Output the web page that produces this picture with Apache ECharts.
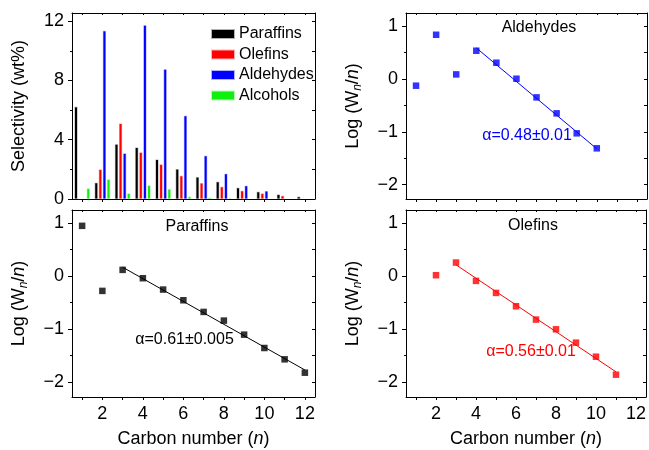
<!DOCTYPE html>
<html><head><meta charset="utf-8">
<script src="https://cdn.jsdelivr.net/npm/echarts@6/dist/echarts.min.js"></script>
<style>html,body{margin:0;padding:0;background:#fff}#c{width:649px;height:450px}</style>
</head><body><div id="c"></div>
<script>
// ---- data ----
const carbon = ['1','2','3','4','5','6','7','8','9','10','11','12'];
const carbonNum = [1,2,3,4,5,6,7,8,9,10,11,12];
const xLabelVals = [2,4,6,8,10,12];
const selTicks = [0,4,8,12];
const selMinor = [2,6,10];
const logTicks = [-2,-1,0,1];
const logMinor = [-1.5,-0.5,0.5];

const paraffinSel = [6.22,1.1,3.7,3.48,2.67,2.02,1.48,1.17,0.76,0.49,0.31,0.16];
const olefinSel   = [null,2.0,5.1,3.15,2.34,1.57,1.08,0.83,0.56,0.38,0.22,null];
const aldehydeSel = [null,11.35,3.08,11.73,8.76,5.62,2.92,1.71,0.9,0.54,null,null];
const alcoholSel  = [0.72,1.33,0.38,0.92,0.67,0.16,0.1,0.08,null,null,null,null];

const aldN = [1,2,3,4,5,6,7,8,9,10];
const aldLog = [-0.126,0.838,0.088,0.536,0.309,0.006,-0.347,-0.649,-1.027,-1.311];
const aldFit = [[4,0.59],[10,-1.32]];

const parN = [1,2,3,4,5,6,7,8,9,10,11,12];
const parLog = [0.951,-0.277,0.12,-0.038,-0.252,-0.454,-0.674,-0.838,-1.103,-1.355,-1.569,-1.821];
const parFit = [[3,0.17],[12,-1.77]];

const olN = [2,3,4,5,6,7,8,9,10,11];
const olLog = [0.019,0.258,-0.088,-0.315,-0.567,-0.819,-1.002,-1.254,-1.519,-1.859];
const olFit = [[3,0.215],[11,-1.805]];

// ---- build ----
const FONT = 'Liberation Sans, Arial, Helvetica, sans-serif';
const grids = [
  {left:72, top:13, width:243, height:186},
  {left:406, top:13, width:241, height:186},
  {left:72, top:210, width:243, height:187},
  {left:406, top:210, width:241, height:187}
];
const xAxis = [], yAxis = [];
const blk = {color:'#000', width:1};
const fmt = v => v < 0 ? '\u2212' + Math.abs(v) : String(v);
const logName = '{a|Log (W}{s|n}{a|/}{i|n}{a|)}';
const nameRich = {
  a:{fontSize:18, fontFamily:FONT, color:'#000', lineHeight:22},
  i:{fontSize:18, fontFamily:FONT, color:'#000', fontStyle:'italic', lineHeight:22},
  s:{fontSize:12, fontFamily:FONT, color:'#000', fontStyle:'italic', lineHeight:22, verticalAlign:'bottom', padding:[6,0,0,0]}
};
const xName = '{a|Carbon number (}{i|n}{a|)}';

function addAxes(g, o) {
  const xi = xAxis.length;
  if (o.cat) {
    xAxis.push({gridIndex:g, type:'category', data:carbon, boundaryGap:true, position:'bottom',
      axisLine:{show:true, onZero:false, lineStyle:blk},
      axisTick:{show:true, alignWithLabel:true, interval:0, length:3, lineStyle:blk},
      axisLabel:{show:false}, splitLine:{show:false}});
    xAxis.push({gridIndex:g, type:'category', data:carbon, boundaryGap:true, position:'top',
      axisLine:{show:true, onZero:false, lineStyle:blk},
      axisTick:{show:true, alignWithLabel:true, interval:0, inside:true, length:2, lineStyle:blk},
      axisLabel:{show:false}, splitLine:{show:false}});
  } else {
    xAxis.push({gridIndex:g, type:'value', min:0.5, max:12.5, position:'bottom',
      axisLine:{show:true, onZero:false, lineStyle:blk},
      axisTick:{show:true, customValues:carbonNum, length:3, lineStyle:blk},
      axisLabel:{show:o.xlab, customValues:xLabelVals, fontSize:18, fontFamily:FONT, color:'#000', margin:8},
      splitLine:{show:false},
      name:o.xlab ? xName : '', nameLocation:'middle', nameGap:31, nameTextStyle:{rich:nameRich}});
    xAxis.push({gridIndex:g, type:'value', min:0.5, max:12.5, position:'top',
      axisLine:{show:true, onZero:false, lineStyle:blk},
      axisTick:{show:true, customValues:carbonNum, inside:true, length:2, lineStyle:blk},
      axisLabel:{show:false}, splitLine:{show:false}});
  }
  const yi = yAxis.length;
  yAxis.push({gridIndex:g, type:'value', min:o.min, max:o.max, position:'left',
    axisLine:{show:true, onZero:false, lineStyle:blk},
    axisTick:{show:true, customValues:o.major, length:4, lineStyle:blk},
    axisLabel:{customValues:o.major, formatter:fmt, fontSize:18, fontFamily:FONT, color:'#000', margin:8},
    splitLine:{show:false},
    name:o.name, nameLocation:'middle', nameGap:o.gap, nameTextStyle:{rich:nameRich}});
  yAxis.push({gridIndex:g, type:'value', min:o.min, max:o.max, position:'left',
    axisLine:{show:false, onZero:false},
    axisTick:{show:true, customValues:o.minor, length:2, lineStyle:blk},
    axisLabel:{show:false}, splitLine:{show:false}});
  yAxis.push({gridIndex:g, type:'value', min:o.min, max:o.max, position:'right',
    axisLine:{show:true, onZero:false, lineStyle:blk},
    axisTick:{show:true, customValues:o.major.concat(o.minor), inside:true, length:3, lineStyle:blk},
    axisLabel:{show:false}, splitLine:{show:false}});
  return [xi, yi];
}

const a0 = addAxes(0, {cat:true, min:0, max:12.55, major:selTicks, minor:selMinor,
  name:'{a|Selectivity (wt%)}', gap:42});
const a1 = addAxes(1, {cat:false, xlab:false, min:-2.27, max:1.25, major:logTicks, minor:logMinor,
  name:logName, gap:42});
const a2 = addAxes(2, {cat:false, xlab:true, min:-2.28, max:1.25, major:logTicks, minor:logMinor,
  name:logName, gap:42});
const a3 = addAxes(3, {cat:false, xlab:true, min:-2.28, max:1.25, major:logTicks, minor:logMinor,
  name:logName, gap:42});

function barS(name, data, color, halo) {
  return {type:'bar', name, data, xAxisIndex:a0[0], yAxisIndex:a0[1],
    barWidth:3.2, barGap:'28%',
    itemStyle:{color, borderColor:halo, borderWidth:1.2}, silent:true};
}
function scat(name, xs, ys, color, ax) {
  return {type:'scatter', name, data:xs.map((x,i)=>[x, ys[i]]), xAxisIndex:ax[0], yAxisIndex:ax[1],
    symbol:'rect', symbolSize:6.5, itemStyle:{color}, z:3, silent:true};
}
function fit(name, pts, color, ax) {
  return {type:'line', name, data:pts, xAxisIndex:ax[0], yAxisIndex:ax[1],
    symbol:'none', lineStyle:{color, width:1}, z:2, silent:true};
}

const series = [
  barS('Paraffins', paraffinSel, '#000000', 'rgba(0,0,0,0.3)'),
  barS('Olefins', olefinSel, '#ff0000', 'rgba(255,0,0,0.3)'),
  barS('Aldehydes', aldehydeSel, '#0000ff', 'rgba(0,0,255,0.3)'),
  barS('Alcohols', alcoholSel, '#11ee11', 'rgba(17,238,17,0.3)'),
  fit('aldFit', aldFit, '#0000ff', a1),
  scat('aldLog', aldN, aldLog, '#0000ff', a1),
  fit('parFit', parFit, '#000000', a2),
  scat('parLog', parN, parLog, '#000000', a2),
  fit('olFit', olFit, '#ff0000', a3),
  scat('olLog', olN, olLog, '#ff0000', a3)
];

function txt(x, y, s, color) {
  return {type:'text', x, y, style:{text:s, fill:color, font:'16px ' + FONT, textAlign:'center', textVerticalAlign:'middle'}, silent:true};
}

const option = {
  animation:false,
  backgroundColor:'#fff',
  grid:grids.map(g => Object.assign({containLabel:false}, g)),
  xAxis, yAxis, series,
  legend:{data:['Paraffins','Olefins','Aldehydes','Alcohols'], orient:'vertical', left:206, top:21,
    icon:'rect', itemWidth:22, itemHeight:8, itemGap:4.5, selectedMode:false,
    textStyle:{fontSize:16, fontFamily:FONT, color:'#000', lineHeight:16, padding:[0,0,0,0]}},
  graphic:[
    txt(539, 28, 'Aldehydes', '#000'),
    txt(527, 136, '\u03b1=0.48\u00b10.01', '#0000ff'),
    txt(197, 227, 'Paraffins', '#000'),
    txt(184.5, 340, '\u03b1=0.61\u00b10.005', '#000'),
    txt(533, 226, 'Olefins', '#000'),
    txt(531, 352, '\u03b1=0.56\u00b10.01', '#ff0000')
  ]
};
const chart = echarts.init(document.getElementById('c'), null, {renderer:'canvas'});
chart.setOption(option);
</script></body></html>
